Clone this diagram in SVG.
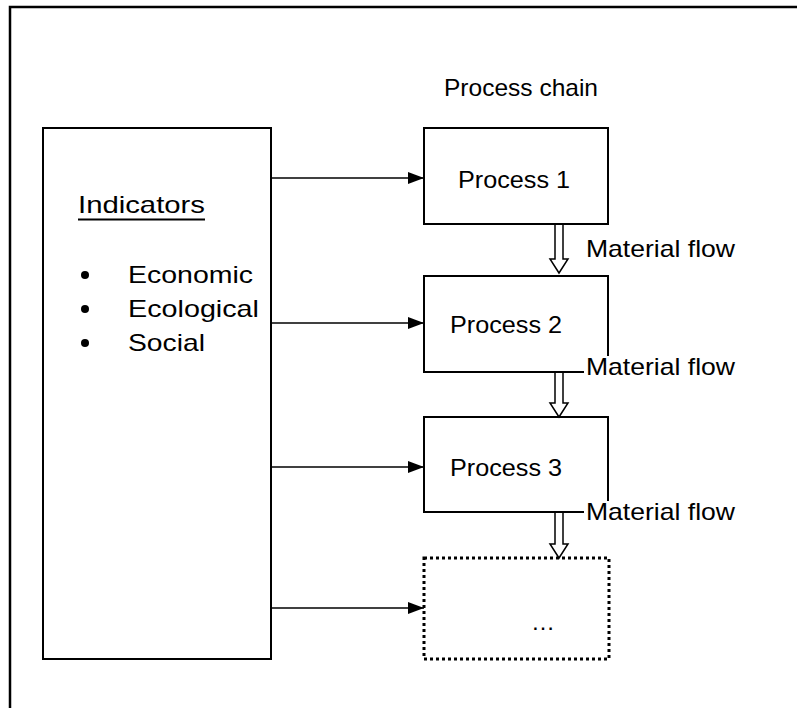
<svg xmlns="http://www.w3.org/2000/svg" width="797" height="708" viewBox="0 0 797 708">
  <style>
    text { font-family: "Liberation Sans", Arial, sans-serif; fill: #000; }
    .box { fill: #fff; stroke: #000; stroke-width: 2; }
    .dotted { fill: #fff; stroke: #000; stroke-width: 3; stroke-dasharray: 3 3; }
    .link { stroke: #000; stroke-width: 1.5; fill: none; }
    .flow { fill: #fff; stroke: #000; stroke-width: 1.5; }
    .lbl { font-size: 24px; }
    .ind { font-size: 24px; }
    .pad { fill: #fff; stroke: none; }
  </style>
  <defs>
    <marker id="head" viewBox="0 0 16 12" refX="16" refY="6" markerWidth="16" markerHeight="12" markerUnits="userSpaceOnUse" orient="auto">
      <path d="M0,0 L16,6 L0,12 Z" fill="#000"/>
    </marker>
  </defs>

  <!-- outer frame, running off the right and bottom edges -->
  <path d="M10,720 V7 H810" fill="none" stroke="#000" stroke-width="2.5"/>

  <text x="444" y="96" class="lbl" textLength="154" lengthAdjust="spacingAndGlyphs">Process chain</text>

  <g id="indicators">
    <rect class="box" x="43" y="128" width="228" height="531"/>
    <text x="78" y="213" class="ind" textLength="127" lengthAdjust="spacingAndGlyphs">Indicators</text>
    <line x1="78" y1="219.5" x2="205" y2="219.5" stroke="#000" stroke-width="2"/>
    <circle cx="85" cy="275" r="4"/>
    <circle cx="85" cy="309" r="4"/>
    <circle cx="85" cy="343" r="4"/>
    <text x="128" y="283" class="ind" textLength="125" lengthAdjust="spacingAndGlyphs">Economic</text>
    <text x="128" y="317" class="ind" textLength="131" lengthAdjust="spacingAndGlyphs">Ecological</text>
    <text x="128" y="351" class="ind" textLength="77" lengthAdjust="spacingAndGlyphs">Social</text>
  </g>

  <g id="process1">
    <rect class="box" x="424" y="128" width="184" height="96"/>
    <text x="458" y="188" class="lbl" textLength="112" lengthAdjust="spacingAndGlyphs">Process 1</text>
  </g>
  <g id="process2">
    <rect class="box" x="424" y="276" width="184" height="96"/>
    <text x="450" y="333" class="lbl" textLength="112" lengthAdjust="spacingAndGlyphs">Process 2</text>
  </g>
  <g id="process3">
    <rect class="box" x="424" y="417" width="184" height="95"/>
    <text x="450" y="476" class="lbl" textLength="112" lengthAdjust="spacingAndGlyphs">Process 3</text>
  </g>
  <g id="more">
    <rect class="dotted" x="424" y="558" width="185" height="101"/>
    <text x="531" y="630" class="lbl">…</text>
  </g>

  <g id="connectors">
    <line class="link" x1="271" y1="178" x2="424" y2="178" marker-end="url(#head)"/>
    <line class="link" x1="271" y1="323" x2="424" y2="323" marker-end="url(#head)"/>
    <line class="link" x1="271" y1="467" x2="424" y2="467" marker-end="url(#head)"/>
    <line class="link" x1="271" y1="608" x2="424" y2="608" marker-end="url(#head)"/>

    <path class="flow" d="M555,225 V259 H550 L559,273 L568,259 H563 V225"/>
    <path class="flow" d="M555,373 V403 H550 L559,417 L568,403 H563 V373"/>
    <path class="flow" d="M555,513 V544 H550 L559,558 L568,544 H563 V513"/>

    <!-- flow labels sit in white-filled text frames -->
    <rect class="pad" x="584" y="238" width="153" height="24"/>
    <rect class="pad" x="584" y="356" width="153" height="24"/>
    <rect class="pad" x="584" y="501" width="153" height="24"/>
    <text x="586" y="257" class="lbl" textLength="149" lengthAdjust="spacingAndGlyphs">Material flow</text>
    <text x="586" y="375" class="lbl" textLength="149" lengthAdjust="spacingAndGlyphs">Material flow</text>
    <text x="586" y="520" class="lbl" textLength="149" lengthAdjust="spacingAndGlyphs">Material flow</text>
  </g>
</svg>
